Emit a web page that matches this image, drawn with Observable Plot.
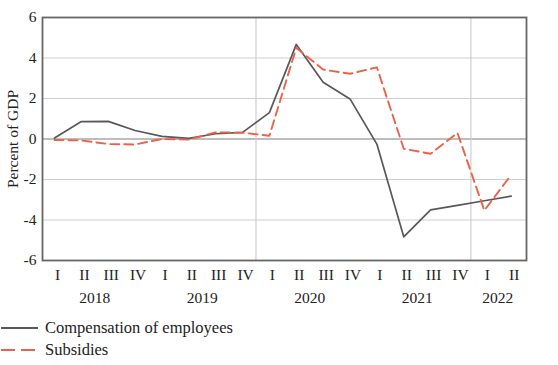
<!DOCTYPE html>
<html>
<head>
<meta charset="utf-8">
<script src="https://cdn.jsdelivr.net/npm/d3@7"></script>
<script src="https://cdn.jsdelivr.net/npm/@observablehq/plot@0.6"></script>
<style>
  body { margin: 0; background: #fff; font-family: "Liberation Serif", serif; }
  #chart { width: 558px; }
  .legend { margin-top: 5px; font-size: 16.5px; color: #222; }
  .legend .row { display: flex; align-items: center; height: 22px; }
  .legend svg { margin-left: 1px; margin-right: 7px; }
</style>
</head>
<body>
<div id="chart"></div>
<script>
const quarters = ["I","II","III","IV","I","II","III","IV","I","II","III","IV","I","II","III","IV","I","II"];
const years = ["2018","2019","2020","2021","2022"];
const yearCenters = [1.5, 5.5, 9.5, 13.5, 16.5];
const compensation = [0.05, 0.86, 0.87, 0.42, 0.13, 0.03, 0.26, 0.33, 1.3, 4.67, 2.8, 1.98, -0.25, -4.83, -3.5, -3.28, -3.05, -2.82];
const subsidies = [-0.05, -0.07, -0.25, -0.27, 0.0, -0.03, 0.33, 0.31, 0.16, 4.5, 3.43, 3.22, 3.54, -0.48, -0.73, 0.3, -3.53, -1.77];
const yTicks = [-6, -4, -2, 0, 2, 4, 6];
const separators = [7.5, 15.5];
const seriesNames = ["Compensation of employees", "Subsidies"];

const idx = quarters.map((_, i) => i);
const compData = idx.map(i => ({i, v: compensation[i]}));
const subData = idx.map(i => ({i, v: subsidies[i]}));
const qData = idx.map(i => ({i, q: quarters[i]}));
const yData = years.map((y, k) => ({x: yearCenters[k], label: y}));

const chart = Plot.plot({
  width: 558,
  height: 312,
  marginLeft: 42,
  marginRight: 32,
  marginTop: 17,
  marginBottom: 52,
  style: {fontFamily: "Liberation Serif, serif", fontSize: "15.5px", color: "#222", background: "#fff"},
  x: {type: "linear", domain: [-0.447, 17.57], axis: null},
  y: {domain: [-6, 6]},
  marks: [
    Plot.gridY(yTicks.filter(d => d !== 0 && Math.abs(d) !== 6), {stroke: "#cfcfcf", strokeOpacity: 1, strokeWidth: 1.2}),
    Plot.ruleY([0], {stroke: "#bdbdbd", strokeWidth: 1.8}),
    Plot.ruleX(separators, {stroke: "#cfcfcf", strokeWidth: 1.2}),
    Plot.line(compData, {x: "i", y: "v", stroke: "#58585a", strokeWidth: 1.7}),
    Plot.line(subData, {x: "i", y: "v", stroke: "#ec6249", strokeWidth: 1.9, strokeDasharray: "9,5"}),
    Plot.frame({stroke: "#666", strokeWidth: 1.8}),
    Plot.axisY(yTicks, {tickSize: 0, tickPadding: 6, tickFormat: d => String(d), fontSize: 15.5, fill: "#222",
      label: "Percent of GDP", labelAnchor: "center", labelArrow: "none", labelOffset: 36}),
    Plot.text(qData, {x: "i", y: () => -6, text: "q", dy: 15, dx: 3, fontSize: 15.5, fill: "#222"}),
    Plot.text(yData, {x: "x", y: () => -6, text: "label", dy: 38, fontSize: 15.5, fill: "#222"})
  ]
});
document.getElementById("chart").appendChild(chart);

const legend = document.createElement("div");
legend.className = "legend";
legend.innerHTML = `
  <div class="row"><svg width="37" height="6"><line x1="0" x2="37" y1="3" y2="3" stroke="#58585a" stroke-width="2"/></svg><span>${seriesNames[0]}</span></div>
  <div class="row"><svg width="37" height="6"><line x1="0" x2="37" y1="3" y2="3" stroke="#ec6249" stroke-width="2" stroke-dasharray="14,6"/></svg><span>${seriesNames[1]}</span></div>`;
document.getElementById("chart").appendChild(legend);
</script>
</body>
</html>
